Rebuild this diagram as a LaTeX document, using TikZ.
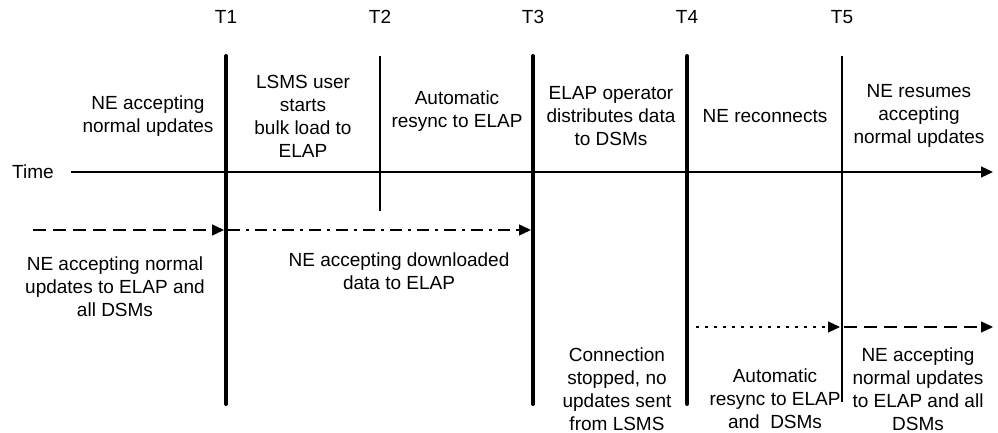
\documentclass[tikz,border=0pt]{standalone}
\usepackage{fontspec}
\setmainfont{Liberation Sans}
\usetikzlibrary{arrows.meta}

\begin{document}
\begin{tikzpicture}[x=1pt,y=-1pt,
    txt/.style={align=center,inner sep=0pt,font=\fontsize{19}{23}\selectfont},
    bigmark/.style={line width=4pt,line cap=round},
    smallmark/.style={line width=1.1pt},
    tip/.style={-{Triangle[length=12pt,width=11pt]}},
    dashline/.style={line width=1.3pt,dash pattern=on 13pt off 7pt},
    dashdotline/.style={line width=1.3pt,dash pattern=on 12pt off 6pt on 3pt off 6pt},
    dotline/.style={line width=1.3pt,dash pattern=on 2.5pt off 6.5pt}]
    \useasboundingbox (0,0) rectangle (998,433);
    % time marks
    \node[txt] (t1) at (226,17) {T1};
    \node[txt] (t2) at (380,17) {T2};
    \node[txt] (t3) at (533,17) {T3};
    \node[txt] (t4) at (687,17) {T4};
    \node[txt] (t5) at (842,17) {T5};
    \coordinate (t1top) at (226,56); \coordinate (t1bot) at (226,404);
    \coordinate (t2top) at (380,56); \coordinate (t2bot) at (380,211);
    \coordinate (t3top) at (533,56); \coordinate (t3bot) at (533,404);
    \coordinate (t4top) at (687,56); \coordinate (t4bot) at (687,404);
    \coordinate (t5top) at (842,56); \coordinate (t5bot) at (842,402);
    \draw[bigmark] (t1top) -- (t1bot);
    \draw[smallmark] (t2top) -- (t2bot);
    \draw[bigmark] (t3top) -- (t3bot);
    \draw[bigmark] (t4top) -- (t4bot);
    \draw[smallmark] (t5top) -- (t5bot);
    % time axis
    \node[txt] (time) at (33,172) {Time};
    \coordinate (axisstart) at (71,172);
    \coordinate (axisend) at (993,172);
    \draw[line width=1.3pt,tip] (axisstart) -- (axisend);
    % phases above the axis
    \node[txt] (normal) at (148,116) {NE accepting\\normal updates};
    \node[txt] (bulk) at (303,116) {LSMS user\\starts\\bulk load to\\ELAP};
    \node[txt] (resync) at (457,111) {Automatic\\resync to ELAP};
    \node[txt] (distribute) at (611,116) {ELAP operator\\distributes data\\to DSMs};
    \node[txt] (reconnect) at (765,116) {NE reconnects};
    \node[txt] (resume) at (919,116) {NE resumes\\accepting\\normal updates};
    % update flows
    \coordinate (flow0) at (33,230);
    \coordinate (flow1) at (224,230);
    \coordinate (flow1b) at (228,230);
    \coordinate (flow3) at (531,230);
    \draw[dashline,tip] (flow0) -- (flow1);
    \draw[dashdotline,tip] (flow1b) -- (flow3);
    \coordinate (flow4) at (696,327);
    \coordinate (flow5) at (840,327);
    \coordinate (flow5b) at (844,327);
    \coordinate (flow6) at (993,327);
    \draw[dotline,tip] (flow4) -- (flow5);
    \draw[dashline,tip] (flow5b) -- (flow6);
    \node[txt] (normalall) at (115,287) {NE accepting normal\\updates to ELAP and\\all DSMs};
    \node[txt] (download) at (399,271) {NE accepting downloaded\\data to ELAP};
    \node[txt] (stopped) at (617,389) {Connection\\stopped, no\\updates sent\\from LSMS};
    \node[txt] (autoresync) at (775,399) {Automatic\\resync to ELAP\\and~ DSMs};
    \node[txt] (normalagain) at (918,389) {NE accepting\\normal updates\\to ELAP and all\\DSMs};
\end{tikzpicture}
\end{document}
